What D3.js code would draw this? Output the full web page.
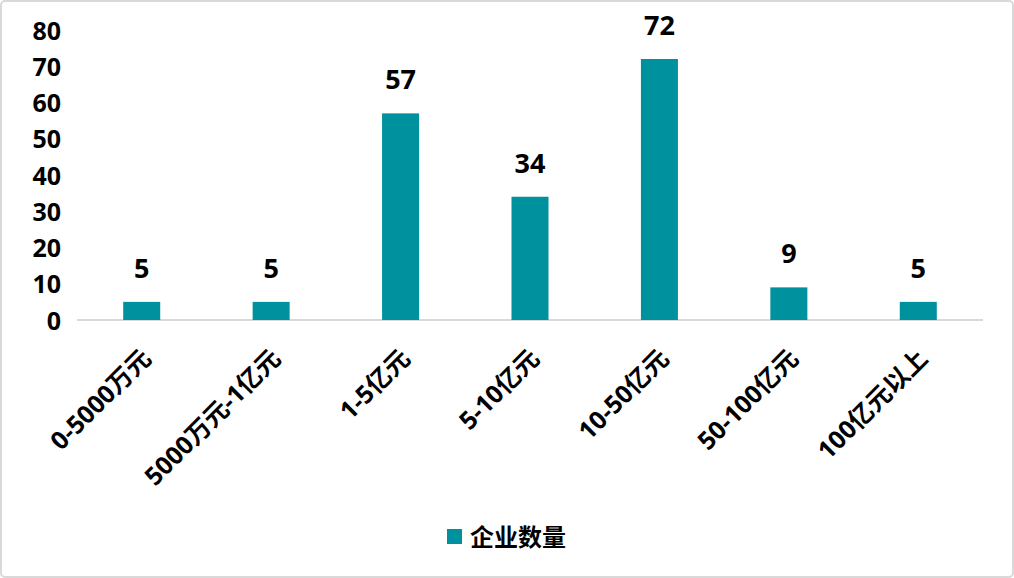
<!DOCTYPE html>
<html><head><meta charset="utf-8">
<script src="https://cdn.jsdelivr.net/npm/d3@7"></script>
<style>
html,body{margin:0;padding:0;background:#fff;}
svg{display:block;}
text{font-family:"Open Sans","Noto Sans CJK SC",sans-serif;font-weight:bold;fill:#000;}
</style></head>
<body>
<script>
const categories = ["0-5000万元","5000万元-1亿元","1-5亿元","5-10亿元","10-50亿元","50-100亿元","100亿元以上"];
const values = [5,5,57,34,72,9,5];
const yTicks = [0,10,20,30,40,50,60,70,80];
const seriesName = "企业数量";

const W=1014,H=578;
const svg=d3.select("body").append("svg").attr("width",W).attr("height",H);
svg.append("rect").attr("x",1).attr("y",1).attr("width",W-2).attr("height",H-2)
  .attr("rx",4).attr("fill","#fff").attr("stroke","#d9d9d9").attr("stroke-width",2);

const x=d3.scaleBand().domain(categories).range([77,983]).paddingInner(0.714).paddingOuter(0.357);
const y=d3.scaleLinear().domain([0,80]).range([320,30]);
const color="#00919E";

// y axis
const ya=svg.append("g").attr("transform","translate(61,0)")
  .call(d3.axisLeft(y).tickValues(yTicks).tickSize(0).tickPadding(0));
ya.select(".domain").remove();
ya.selectAll("text").style("font-size","25px").attr("dy","0.36em");

// baseline
svg.append("line").attr("x1",77).attr("x2",983).attr("y1",y(0)).attr("y2",y(0))
  .attr("stroke","#d9d9d9").attr("stroke-width",2);

// bars
svg.selectAll(".bar").data(values).enter().append("rect")
  .attr("x",(d,i)=>x(categories[i])).attr("width",x.bandwidth())
  .attr("y",d=>y(d)).attr("height",d=>y(0)-y(d)).attr("fill",color);

// labels
svg.selectAll(".lbl").data(values).enter().append("text")
  .attr("x",(d,i)=>x(categories[i])+x.bandwidth()/2)
  .attr("y",d=>y(d)-24).attr("text-anchor","middle")
  .style("font-size","27px").text(d=>d);

// x axis
const xa=svg.append("g").attr("transform","translate(0,"+y(0)+")")
  .call(d3.axisBottom(x).tickSize(0).tickPadding(0));
xa.select(".domain").remove();
xa.selectAll("text").style("font-size","25px")
  .attr("text-anchor","end").attr("dy","0")
  .attr("transform","translate(11,40) rotate(-45)");

// legend
const lg=svg.append("g").attr("transform","translate(447,529)");
lg.append("rect").attr("width",15).attr("height",15).attr("fill",color);
lg.append("text").attr("x",23).attr("y",8).attr("dy","0.36em").style("font-size","24px").text(seriesName);
</script>
</body></html>
